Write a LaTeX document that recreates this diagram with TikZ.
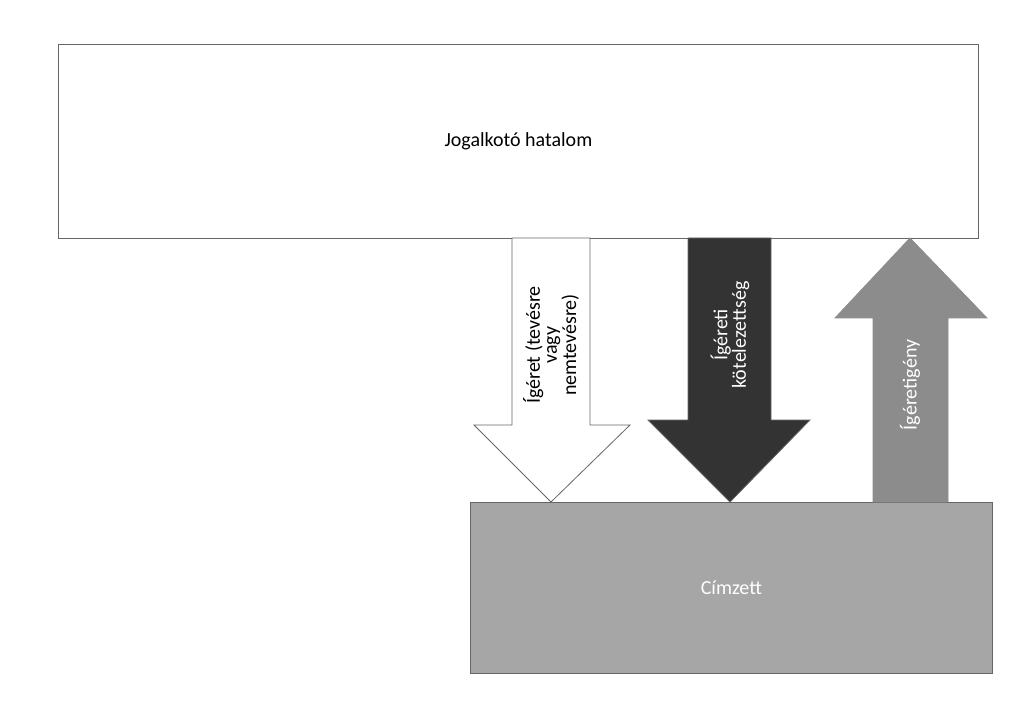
\documentclass[tikz,border=0pt]{standalone}
\usepackage{fontspec}
\setmainfont{Carlito}
\begin{document}
\begin{tikzpicture}[x=1pt,y=-1pt,
  lbl/.style={font=\fontsize{20}{17}\selectfont,align=center},
  arr/.style={draw=black!60,line width=0.8pt}]
\useasboundingbox (0,0) rectangle (1023,727);
\node[draw=black!60,line width=0.8pt,minimum width=920pt,minimum height=194pt,anchor=north west,lbl] (top) at (58,44) {Jogalkotó hatalom};
\node[draw=black!60,fill=black!35,line width=0.8pt,minimum width=522pt,minimum height=171pt,anchor=north west,lbl,text=white] (bot) at (470,502) {Címzett};
% white arrow
\draw[arr,fill=white] (512,238) -- (590,238) -- (590,425) -- (630,425) -- (551,502) -- (474,425) -- (512,425) -- cycle;
\node[lbl,rotate=90] (t1) at (551,345) {Ígéret (tevésre\\vagy\\nemtevésre)};
% dark arrow
\draw[arr,fill=black!80] (688,238) -- (771,238) -- (771,420) -- (810,420) -- (730,502) -- (648,420) -- (688,420) -- cycle;
\node[lbl,rotate=90,text=white] (t2) at (730,335) {Ígéreti\\kötelezettség};
% gray up arrow
\draw[arr,fill=black!45,draw=black!45] (873,502) -- (948,502) -- (948,318) -- (987,318) -- (910,238) -- (835,318) -- (873,318) -- cycle;
\node[lbl,rotate=90,text=white] (t3) at (910,385) {Ígéretigény};
\end{tikzpicture}
\end{document}
